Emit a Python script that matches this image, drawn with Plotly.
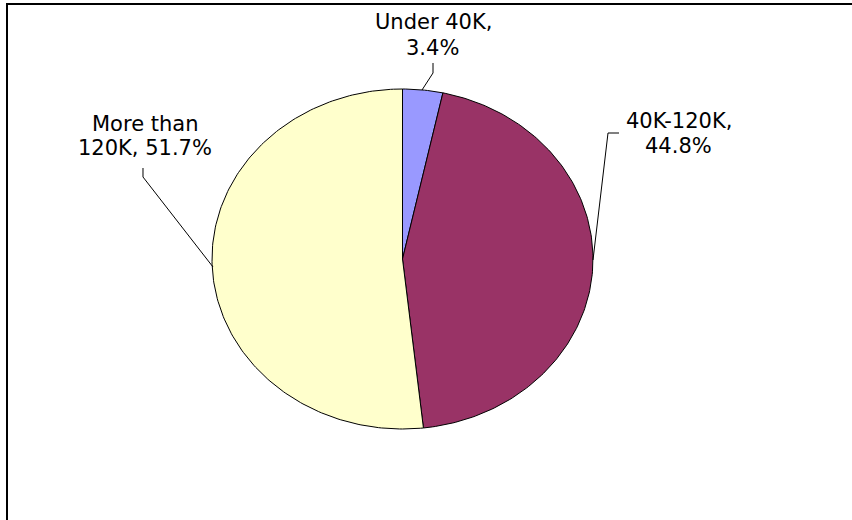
import math
import plotly.graph_objects as go

# ---- data ----
categories = ["Under 40K", "40K-120K", "More than 120K"]
percents = [3.4, 44.8, 51.7]
colors = ["#9999FF", "#993366", "#FFFFCC"]
label_lines = [["Under 40K,", "3.4%"], ["40K-120K,", "44.8%"], ["More than", "120K, 51.7%"]]

W, H = 852, 520
# pie placement (pixels): centre and elliptical radii
CX, CY, RX, RY = 402.5, 259.0, 190.5, 170.0

fig = go.Figure()

total = sum(percents)
start = 0.0
for cat, val, col in zip(categories, percents, colors):
    frac0 = start / total
    frac1 = (start + val) / total
    n = max(4, int(400 * (frac1 - frac0)))
    xs, ys = [0.0], [0.0]
    for i in range(n + 1):
        t = 2 * math.pi * (frac0 + (frac1 - frac0) * i / n)
        xs.append(math.sin(t))
        ys.append(math.cos(t))
    xs.append(0.0)
    ys.append(0.0)
    fig.add_trace(go.Scatter(
        x=xs, y=ys, mode="lines", fill="toself", fillcolor=col,
        line=dict(color="black", width=1), name=cat,
        hoverinfo="name", showlegend=False,
    ))
    start += val

# axes: unit circle -> ellipse of RX x RY pixels centred at (CX, CY)
fig.update_xaxes(range=[-CX / RX, (W - CX) / RX], visible=False, fixedrange=True)
fig.update_yaxes(range=[-(H - CY) / RY, CY / RY], visible=False, fixedrange=True)


def px(x):
    return x / W


def py(y):
    return 1 - y / H


# labels, one annotation per line (positions in pixels: centre x, cap-middle y)
label_pos = [
    [(433.5, 22.5), (433.0, 47.5)],
    [(679.0, 120.5), (678.5, 145.5)],
    [(144.5, 123.5), (145.0, 148.0)],
]
for lines, poss in zip(label_lines, label_pos):
    for text, (lx, ly) in zip(lines, poss):
        fig.add_annotation(
            x=px(lx), y=py(ly), xref="paper", yref="paper",
            text=text, showarrow=False, xanchor="center", yanchor="middle",
            font=dict(family="DejaVu Sans", size=21, color="black"),
        )

# leader lines (pixels)
leaders = [
    [(433, 63), (433, 73), (422, 90)],
    [(619, 133), (608, 133), (593, 260)],
    [(143, 168), (143, 177), (213, 267)],
]
for pts in leaders:
    path = "M " + " L ".join(f"{px(a):.5f} {py(b):.5f}" for a, b in pts)
    fig.add_shape(type="path", path=path, xref="paper", yref="paper",
                  line=dict(color="black", width=1))

# chart border: only top and left edges are visible in the frame
fig.add_shape(type="path", xref="paper", yref="paper",
              path=f"M {px(7):.5f} {py(H + 5):.5f} L {px(7):.5f} {py(4):.5f} L {px(W + 5):.5f} {py(4):.5f}",
              line=dict(color="black", width=2))

fig.update_layout(
    width=W, height=H,
    margin=dict(l=0, r=0, t=0, b=0),
    paper_bgcolor="white", plot_bgcolor="white",
    showlegend=False,
)

fig.write_html("out.html")
